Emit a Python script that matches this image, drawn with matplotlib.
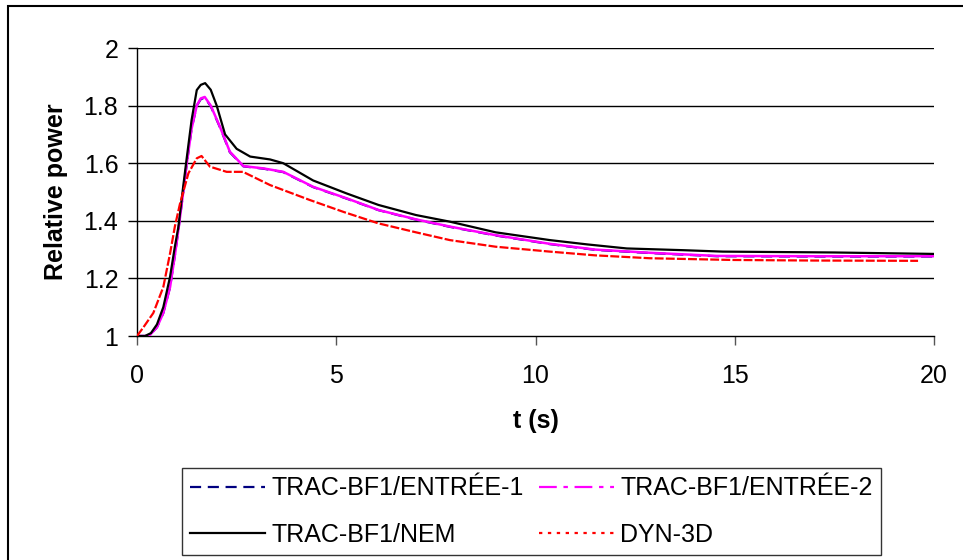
import matplotlib
matplotlib.use("Agg")
import matplotlib.pyplot as plt
from matplotlib.lines import Line2D
from matplotlib.patches import Rectangle

plt.rcParams["font.family"] = ["Liberation Sans", "DejaVu Sans"]

# TRAC-BF1 / NEM
t_nem = [0, 0.2, 0.35, 0.5, 0.66, 0.83, 0.95, 1.04, 1.16, 1.25, 1.37, 1.5, 1.6,
         1.71, 1.85, 2.0, 2.21, 2.5, 2.84, 3.34, 3.67, 4.42, 5.26, 6.06, 7.0,
         7.85, 9.0, 10.36, 11.3, 12.29, 13.7, 14.7, 17.5, 20]
p_nem = [1.0, 1.0, 1.01, 1.04, 1.10, 1.206, 1.31, 1.38, 1.52, 1.62, 1.75, 1.854,
         1.872, 1.878, 1.855, 1.80, 1.70, 1.65, 1.623, 1.613, 1.60, 1.54, 1.495,
         1.455, 1.42, 1.397, 1.36, 1.333, 1.318, 1.304, 1.298, 1.293, 1.29, 1.285]

# TRAC-BF1 / ENTREE-2
t_e2 = [0, 0.3, 0.5, 0.66, 0.83, 0.95, 1.04, 1.16, 1.25, 1.37, 1.5, 1.6, 1.7,
        1.85, 2.08, 2.33, 2.67, 3.17, 3.67, 4.42, 5.26, 6.06, 7.0, 7.85, 9.0,
        10.36, 11.5, 12.87, 14.55, 17.0, 20]
p_e2 = [1.0, 1.0, 1.03, 1.08, 1.17, 1.28, 1.37, 1.5, 1.6, 1.72, 1.80, 1.825,
        1.83, 1.80, 1.727, 1.64, 1.59, 1.582, 1.57, 1.518, 1.478, 1.4375, 1.405,
        1.38, 1.35, 1.32, 1.30, 1.289, 1.278, 1.277, 1.277]

# TRAC-BF1 / ENTREE-1
t_e1 = [0, 0.3, 0.5, 0.66, 0.83, 0.95, 1.04, 1.16, 1.25, 1.37, 1.5, 1.6, 1.7,
        1.85, 2.08, 2.33, 2.67, 3.17, 3.67, 4.42, 5.26, 6.06, 7.0, 7.85, 9.0,
        10.36, 11.5, 12.87, 14.55, 17.0, 20]
p_e1 = [1.0, 1.0, 1.03, 1.08, 1.17, 1.28, 1.37, 1.5, 1.6, 1.72, 1.80, 1.822,
        1.828, 1.798, 1.725, 1.638, 1.589, 1.581, 1.569, 1.517, 1.477, 1.437,
        1.404, 1.379, 1.349, 1.319, 1.299, 1.288, 1.277, 1.276, 1.276]

# DYN-3D
t_dyn = [0, 0.16, 0.41, 0.66, 0.83, 0.95, 1.08, 1.29, 1.5, 1.62, 1.83, 2.25,
         2.66, 3.34, 4.34, 5.2, 6.06, 7.0, 7.85, 9.0, 10.36, 11.5, 12.87, 14.95,
         17.0, 19.6]
p_dyn = [1.0, 1.03, 1.08, 1.17, 1.287, 1.38, 1.46, 1.565, 1.617, 1.625, 1.588,
         1.57, 1.57, 1.524, 1.472, 1.43, 1.391, 1.36, 1.333, 1.31, 1.293, 1.28,
         1.27, 1.264, 1.262, 1.261]

labels = ["TRAC-BF1/ENTRÉE-1", "TRAC-BF1/ENTRÉE-2", "TRAC-BF1/NEM", "DYN-3D"]
x_ticks = [0, 5, 10, 15, 20]
y_ticks = [1, 1.2, 1.4, 1.6, 1.8, 2]
y_ticklabels = ["1", "1.2", "1.4", "1.6", "1.8", "2"]

FS = 18
W, H = 963, 560
fig = plt.figure(figsize=(W / 100, H / 100), dpi=100)
ax = fig.add_axes([137 / W, 1 - 336 / H, (934 - 137) / W, (336 - 48) / H])

ax.plot(t_e1, p_e1, color="#000080", lw=1.6, ls=(0, (5, 3)), zorder=3)
ax.plot(t_e2, p_e2, color="#ff00ff", lw=1.8, zorder=4)
ax.plot(t_nem, p_nem, color="black", lw=1.6, zorder=5)
ax.plot(t_dyn, p_dyn, color="red", lw=1.6, ls=(0, (4, 1)), zorder=6)

ax.set_xlim(0, 20)
ax.set_ylim(1, 2)
ax.set_xticks(x_ticks)
ax.set_yticks(y_ticks)
ax.set_yticklabels(y_ticklabels)
for v in y_ticks[1:]:
    ax.axhline(v, color="black", lw=1.0, zorder=1)
for s in ("top", "right"):
    ax.spines[s].set_visible(False)
for s in ("left", "bottom"):
    ax.spines[s].set_linewidth(1.0)
ax.tick_params(axis="both", direction="out", length=6.5, width=1.0,
               labelsize=FS)
ax.tick_params(axis="y", pad=7)
ax.tick_params(axis="x", pad=14, color="#555555")

ax.set_xlabel("t (s)", fontsize=FS, fontweight="bold", labelpad=15)
ax.set_ylabel("Relative power", fontsize=FS, fontweight="bold", labelpad=11)

# legend is filled column by column, so order the entries to read row-wise
handles = [
    Line2D([], [], color="#000080", lw=1.6, ls=(0, (5, 3))),
    Line2D([], [], color="black", lw=1.6),
    Line2D([], [], color="#ff00ff", lw=1.6, ls=(0, (8, 3, 2, 3))),
    Line2D([], [], color="red", lw=1.6, ls=(0, (1.5, 2.5))),
]
order = [labels[0], labels[2], labels[1], labels[3]]
leg = fig.legend(handles, order, ncol=2, loc="upper left",
                 bbox_to_anchor=(182 / W, 1 - 468 / H), fontsize=FS,
                 frameon=True, fancybox=False, handlelength=3.0,
                 handletextpad=0.25, columnspacing=0.6, labelspacing=0.9,
                 borderpad=0.33, borderaxespad=0)
leg.get_frame().set_edgecolor("black")
leg.get_frame().set_linewidth(1.0)

fig.patches.append(Rectangle((8 / W, -0.1), 1.2, 1 - 6 / H + 0.1,
                             transform=fig.transFigure, fill=False,
                             edgecolor="black", lw=1.5, clip_on=False))

fig.savefig("out.png", dpi=100)
